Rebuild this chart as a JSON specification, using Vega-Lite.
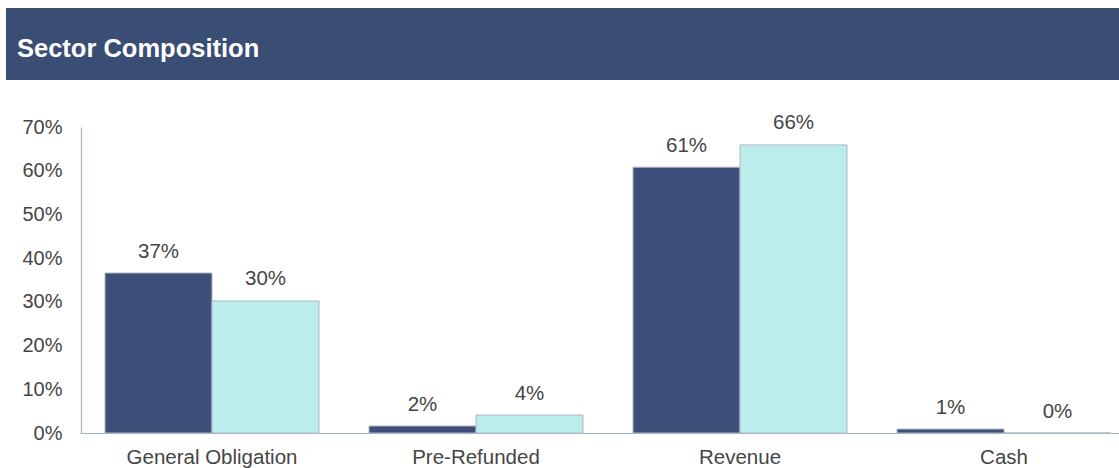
{
  "$schema": "https://vega.github.io/schema/vega-lite/v6.json",
  "autosize": {"type": "none"},
  "padding": {"left": 81, "top": 127, "right": 0, "bottom": 35},
  "width": 1038,
  "height": 306,
  "background": "white",
  "config": {
    "view": {"stroke": null},
    "font": "Liberation Sans"
  },
  "layer": [
    {
      "data": {"values": [{"title": "Sector Composition"}]},
      "encoding": {
        "x": {"datum": 0, "type": "quantitative", "scale": {"domain": [0, 1], "range": [-75, 1040], "nice": false, "zero": false}, "axis": null},
        "y": {"datum": 0, "type": "quantitative", "scale": {"domain": [0, 1], "range": [-119, -47], "nice": false, "zero": false}, "axis": null}
      },
      "layer": [
        {
          "mark": {"type": "rect", "color": "#3A4D74"},
          "encoding": {"x2": {"datum": 1}, "y2": {"datum": 1}}
        },
        {
          "mark": {"type": "text", "align": "left", "baseline": "alphabetic", "dx": 11, "dy": 12.5, "color": "white", "fontSize": 25.5, "fontWeight": "bold", "font": "Liberation Sans"},
          "encoding": {
            "y": {"datum": 0.5, "type": "quantitative"},
            "text": {"field": "title"}
          }
        }
      ]
    },
    {
      "data": {
        "values": [
          {"sector": "General Obligation", "series": "A", "value": 0.366},
          {"sector": "General Obligation", "series": "B", "value": 0.302},
          {"sector": "Pre-Refunded", "series": "A", "value": 0.016},
          {"sector": "Pre-Refunded", "series": "B", "value": 0.041},
          {"sector": "Revenue", "series": "A", "value": 0.608},
          {"sector": "Revenue", "series": "B", "value": 0.659},
          {"sector": "Cash", "series": "A", "value": 0.009},
          {"sector": "Cash", "series": "B", "value": 0.0}
        ]
      },
      "encoding": {
        "x": {
          "field": "sector", "type": "nominal",
          "sort": ["General Obligation", "Pre-Refunded", "Revenue", "Cash"],
          "scale": {"range": [-1, 1055], "paddingInner": 0.1894, "paddingOuter": 0.0947},
          "axis": {
            "title": null, "labelAngle": 0, "ticks": false, "domainColor": "#A9B4C3", "domainWidth": 1.2,
            "labelFontSize": 20.5, "labelColor": "#454545", "labelPadding": 14, "labelFont": "Liberation Sans"
          }
        },
        "xOffset": {"field": "series", "type": "nominal", "sort": ["A", "B"]},
        "y": {
          "field": "value", "type": "quantitative",
          "scale": {"domain": [0, 0.7], "nice": false},
          "axis": {
            "title": null, "values": [0, 0.1, 0.2, 0.3, 0.4, 0.5, 0.6, 0.7], "format": ".0%",
            "grid": false, "ticks": false, "domainColor": "#A9B4C3", "domainWidth": 1.2,
            "labelFontSize": 20, "labelColor": "#454545", "labelPadding": 19, "labelFont": "Liberation Sans"
          }
        }
      },
      "layer": [
        {
          "mark": {"type": "bar", "stroke": "#AEB6C2", "strokeWidth": 1},
          "encoding": {
            "color": {
              "field": "series", "type": "nominal", "legend": null,
              "scale": {"domain": ["A", "B"], "range": ["#3E5079", "#BCEDED"]}
            }
          }
        },
        {
          "mark": {"type": "text", "baseline": "alphabetic", "dy": -15.5, "fontSize": 20.5, "color": "#454545", "font": "Liberation Sans"},
          "encoding": {
            "text": {"field": "value", "type": "quantitative", "format": ".0%"}
          }
        }
      ]
    }
  ],
  "resolve": {"scale": {"x": "independent", "y": "independent"}}
}
